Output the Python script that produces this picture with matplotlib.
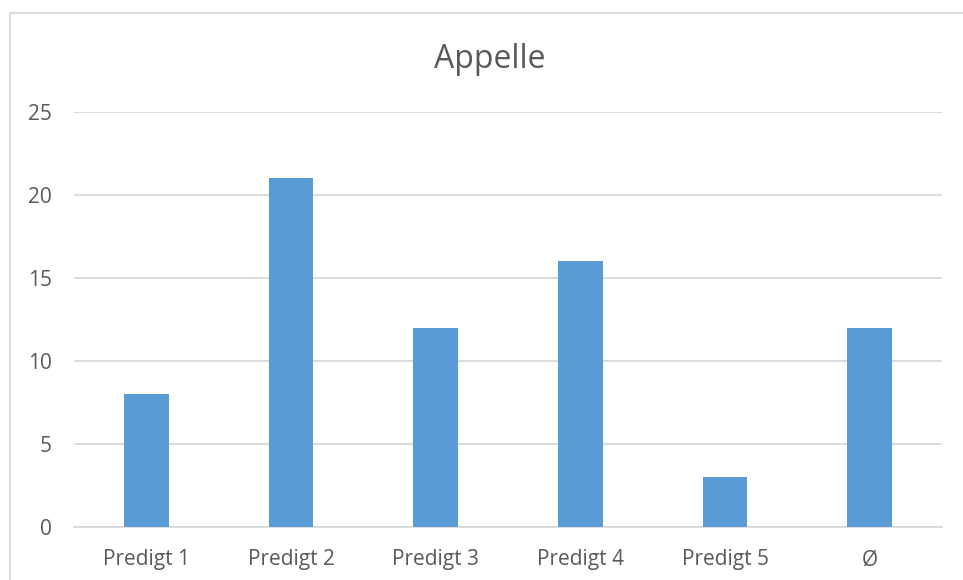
import matplotlib
matplotlib.use('Agg')
import matplotlib.pyplot as plt
from matplotlib.patches import Rectangle

# Werte aus der Grafik
kategorien = ['Predigt 1', 'Predigt 2', 'Predigt 3', 'Predigt 4', 'Predigt 5', 'Ø']
appelle = [8, 21, 12, 16, 3, 12]
y_ticks = [0, 5, 10, 15, 20, 25]

text_grey = '#595959'
grid_grey = '#d9d9d9'
bar_blue = '#5b9bd5'

plt.rcParams['font.family'] = ['Open Sans', 'DejaVu Sans']

fig = plt.figure(figsize=(9.63, 5.8), dpi=100)
W, H = 963, 580
ax = fig.add_axes([74 / W, 1 - 527 / H, (942 - 74) / W, (527 - 112) / H])

x = range(len(kategorien))
ax.bar(x, appelle, width=0.31, color=bar_blue, zorder=3)

ax.set_xlim(-0.5, len(kategorien) - 0.5)
ax.set_ylim(0, 25)
ax.set_yticks(y_ticks)
ax.set_xticks(list(x))
ax.set_xticklabels(kategorien)

ax.grid(True, axis='y', color=grid_grey, linewidth=1.3, zorder=0)
for side in ['top', 'right', 'left']:
    ax.spines[side].set_visible(False)
ax.spines['bottom'].set_color(grid_grey)
ax.spines['bottom'].set_linewidth(1.3)
ax.tick_params(axis='both', length=0, colors=text_grey, labelsize=15)
ax.tick_params(axis='y', pad=16)
ax.tick_params(axis='x', pad=16)

fig.text(490 / W, 1 - 68 / H, 'Appelle', ha='center', va='baseline',
         fontsize=23, color=text_grey)

# heller Rahmen um den Diagrammbereich
rahmen = Rectangle((10 / W, -0.05), 1.1, 1 - 13 / H + 0.05, transform=fig.transFigure,
                   fill=False, edgecolor=grid_grey, linewidth=1.3)
fig.add_artist(rahmen)

fig.savefig('out.png', dpi=100)
